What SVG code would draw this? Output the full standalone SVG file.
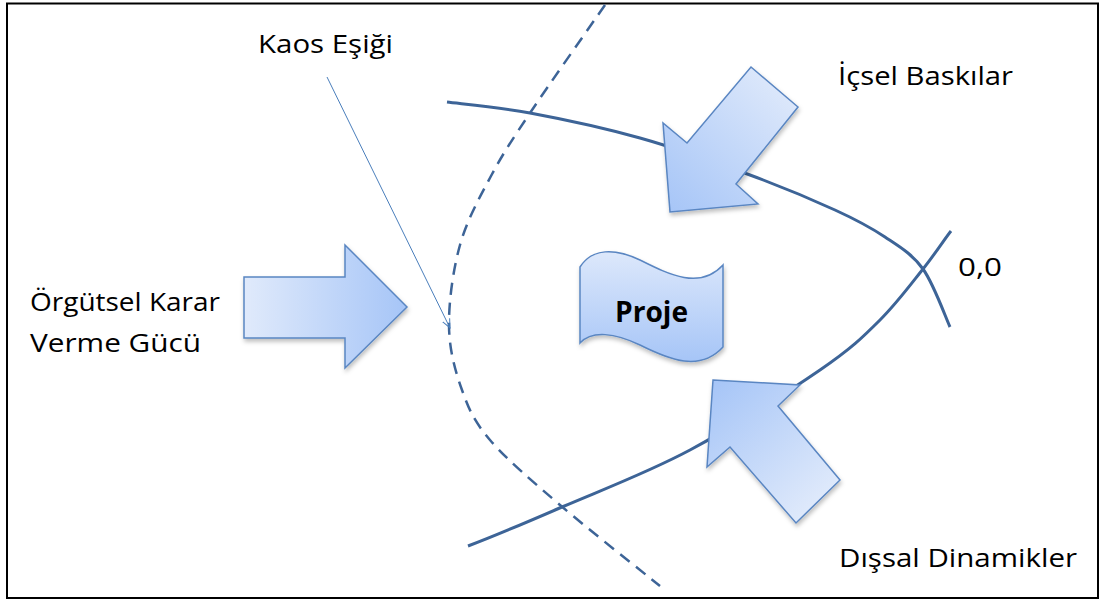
<svg xmlns="http://www.w3.org/2000/svg" width="1101" height="601" viewBox="0 0 1101 601">
  <defs>
    <linearGradient id="gradRight" x1="0" y1="0" x2="1" y2="0">
      <stop offset="0" stop-color="#e0eafb"/>
      <stop offset="1" stop-color="#a6c5f7"/>
    </linearGradient>
    <linearGradient id="gradDownLeft" gradientUnits="userSpaceOnUse" x1="790" y1="80" x2="665" y2="210">
      <stop offset="0" stop-color="#e0eafb"/>
      <stop offset="1" stop-color="#a6c5f7"/>
    </linearGradient>
    <linearGradient id="gradUpLeft" gradientUnits="userSpaceOnUse" x1="820" y1="505" x2="710" y2="385">
      <stop offset="0" stop-color="#e0eafb"/>
      <stop offset="1" stop-color="#a6c5f7"/>
    </linearGradient>
    <linearGradient id="gradDown" x1="0" y1="0" x2="0" y2="1">
      <stop offset="0" stop-color="#dde8fb"/>
      <stop offset="1" stop-color="#a6c5f7"/>
    </linearGradient>
    <filter id="shadow" x="-10%" y="-10%" width="130%" height="130%">
      <feDropShadow dx="1" dy="3" stdDeviation="2" flood-color="#000" flood-opacity="0.25"/>
    </filter>
    <marker id="openArrow" viewBox="0 0 10 10" refX="9" refY="5" markerWidth="10" markerHeight="10" markerUnits="userSpaceOnUse" orient="auto">
      <path d="M0,1 L9,5 L0,9" fill="none" stroke="#4a7ebb" stroke-width="1"/>
    </marker>
  </defs>
  <style>
    .label { font-family: "Open Sans", "Liberation Sans", sans-serif; font-size: 26px; fill: #000; }
    .bold { font-family: "Open Sans", "Liberation Sans", sans-serif; font-size: 28px; font-weight: bold; fill: #000; }
    .curve { fill: none; stroke: #3d6497; stroke-width: 3; }
    .dashed { fill: none; stroke: #3d6497; stroke-width: 2.5; stroke-dasharray: 12 8; }
    .block { stroke: #5a86c2; stroke-width: 1.5; stroke-linejoin: miter; filter: url(#shadow); }
  </style>

  <!-- frame -->
  <rect x="7" y="3.5" width="1091" height="594.5" fill="#fff" stroke="#000" stroke-width="2"/>

  <!-- connectors: threshold curve, boundary curves and pointer -->
  <g id="connectors">
    <path class="dashed" d="M605,5 C592.5,23 549,84.5 530,113 C511,141.5 502.7,154 491,176 C479.3,198 467,220 460,245 C453,270 448.7,301.8 449,326 C449.3,350.2 455.2,371 462,390 C468.8,409 473.7,420.8 490,440 C506.3,459.2 531.7,480.7 560,505 C588.3,529.3 643.3,572.5 660,586"/>
    <path class="curve" d="M447,102 C460.8,103.8 497.8,107 530,113 C562.2,119 603.3,127.7 640,138 C676.7,148.3 717.5,163 750,175 C782.5,187 812.5,199.7 835,210 C857.5,220.3 870.3,227.2 885,237 C899.7,246.8 912.2,254 923,269 C933.8,284 945.5,317.3 950,327"/>
    <path class="curve" d="M468,546 C484,540 525,523 562,507 C599,491 647,473 690,450 C733,427 788,392 820,370 C852,348 863,337 880,320 C897,303 911,284 923,269 C935,254 946,237 951,231"/>
    <line x1="327" y1="77" x2="450" y2="328" stroke="#4a7ebb" stroke-width="1" marker-end="url(#openArrow)"/>
  </g>

  <!-- decision power arrow -->
  <g id="arrow-karar">
    <polygon class="block" fill="url(#gradRight)" points="244,277 345,277 345,245 407,307 345,368 345,338 244,338"/>
  </g>

  <!-- internal pressures arrow -->
  <g id="arrow-icsel">
    <polygon class="block" fill="url(#gradDownLeft)" points="751,67 798,107 736,184 758,204 670,212 663,123 687,143"/>
  </g>

  <!-- external dynamics arrow -->
  <g id="arrow-dissal">
    <polygon class="block" fill="url(#gradUpLeft)" points="713,380 800,385 778,406 840,480 796,523 730,447 707,467"/>
  </g>

  <!-- project flag -->
  <g id="proje">
    <path class="block" fill="url(#gradDown)" d="M580,267 C592,248 615,248 640,260 C670,275 700,290 723,265 L723,347 C700,372 670,360 640,345 C615,333 592,330 580,343 Z"/>
    <text class="bold" x="651.5" y="322" text-anchor="middle" textLength="73" lengthAdjust="spacingAndGlyphs">Proje</text>
  </g>

  <!-- labels -->
  <g id="label-kaos">
    <text class="label" x="258" y="53" textLength="135" lengthAdjust="spacingAndGlyphs">Kaos Eşiği</text>
  </g>
  <g id="label-icsel">
    <text class="label" x="838" y="85" textLength="175" lengthAdjust="spacingAndGlyphs">İçsel Baskılar</text>
  </g>
  <g id="label-origin">
    <text class="label" x="958" y="276" textLength="44" lengthAdjust="spacingAndGlyphs">0,0</text>
  </g>
  <g id="label-karar">
    <text class="label" x="30" y="311" textLength="190" lengthAdjust="spacingAndGlyphs">Örgütsel Karar</text>
    <text class="label" x="30" y="352" textLength="171" lengthAdjust="spacingAndGlyphs">Verme Gücü</text>
  </g>
  <g id="label-dissal">
    <text class="label" x="839" y="567" textLength="238" lengthAdjust="spacingAndGlyphs">Dışsal Dinamikler</text>
  </g>
</svg>
